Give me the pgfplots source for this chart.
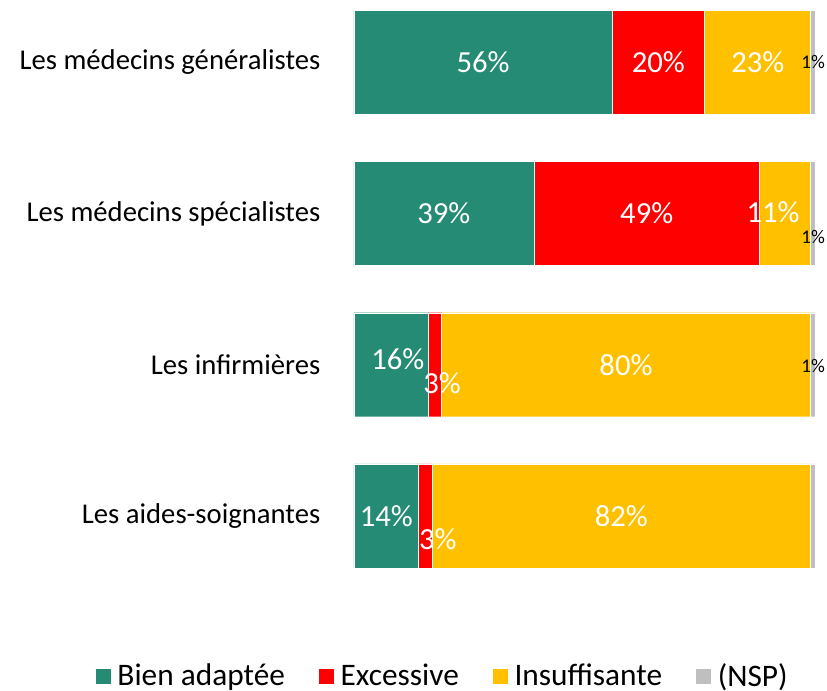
\documentclass[border=0pt]{standalone}
\usepackage{fontspec}
\setmainfont{Carlito}
\usepackage{pgfplots}
\pgfplotsset{compat=1.18}
\definecolor{cgreen}{RGB}{38,139,116}
\definecolor{cred}{RGB}{255,0,0}
\definecolor{cyellow}{RGB}{255,192,0}
\definecolor{cgray}{RGB}{191,191,191}
\newcommand{\mybigfont}{\fontsize{21.5}{25}\selectfont}
\newcommand{\myvalfont}{\fontsize{23}{27}\selectfont}
\newcommand{\mylegfont}{\fontsize{23.5}{27}\selectfont}
\newcommand{\mysmallfont}{\fontsize{14.5}{17}\selectfont}
\pgfplotsset{sq/.style={legend image code/.code={\fill[#1] (0pt,-6pt) rectangle (12pt,6pt);}}}
\newcommand{\vallab}[3]{\node[text=white, font=\myvalfont] at (axis cs:#1,#2) {#3\%};}
\newcommand{\smlab}[2]{\node[text=black, font=\mysmallfont, inner sep=0pt] at (axis cs:#1,#2) {1\%};}
\begin{document}
\begin{tikzpicture}
\useasboundingbox (-265.5pt,0pt) rectangle (354.75pt,-518.25pt);
\begin{axis}[
  at={(0,0)}, anchor=north west,
  scale only axis, width=345.75pt, height=443.6pt,
  clip=false,
  xbar stacked, bar width=78pt,
  xmin=0, xmax=100, ymin=-0.413, ymax=3.5, y dir=reverse,
  hide x axis,
  axis y line=left, y axis line style={draw=none},
  ytick={0,1,2,3}, major tick length=0pt,
  yticklabels={Les médecins généralistes, Les médecins spécialistes, Les infirmières, Les aides-soignantes\hspace{5pt}},
  yticklabel style={font=\mybigfont, anchor=east, xshift=-21.75pt},
  legend columns=4,
  legend style={draw=none, fill=none, at={(axis description cs:0.191,-0.1425)}, anchor=center, font=\mylegfont,
    nodes={inner xsep=1pt},
    /tikz/every odd column/.append style={column sep=3.5pt},
    /tikz/every even column/.append style={column sep=24pt}},
  after end axis/.code={
    \vallab{28}{0}{56}
    \vallab{66}{0}{20}
    \vallab{87.6}{0}{23}
    \vallab{19.5}{1}{39}
    \vallab{63.5}{1}{49}
    \vallab{90.9}{0.99}{11}
    \vallab{9.5}{1.966}{16}
    \vallab{19.1}{2.124}{3}
    \vallab{59}{2}{80}
    \vallab{7}{3}{14}
    \vallab{18.2}{3.155}{3}
    \vallab{58}{3}{82}
    \smlab{99.6}{0}
    \smlab{99.6}{1.153}
    \smlab{99.6}{2.006}
  },
]
\addplot[fill=cgreen, draw=white, line width=0.3pt, sq] coordinates {(56,0) (39,1) (16,2) (14,3)};
\addplot[fill=cred, draw=white, line width=0.3pt, sq] coordinates {(20,0) (49,1) (3,2) (3,3)};
\addplot[fill=cyellow, draw=white, line width=0.3pt, sq] coordinates {(23,0) (11,1) (80,2) (82,3)};
\addplot[fill=cgray, draw=white, line width=0.3pt, sq] coordinates {(1,0) (1,1) (1,2) (1,3)};
\legend{Bien adaptée, Excessive, Insuffisante, (NSP)}
\end{axis}
\end{tikzpicture}
\end{document}
